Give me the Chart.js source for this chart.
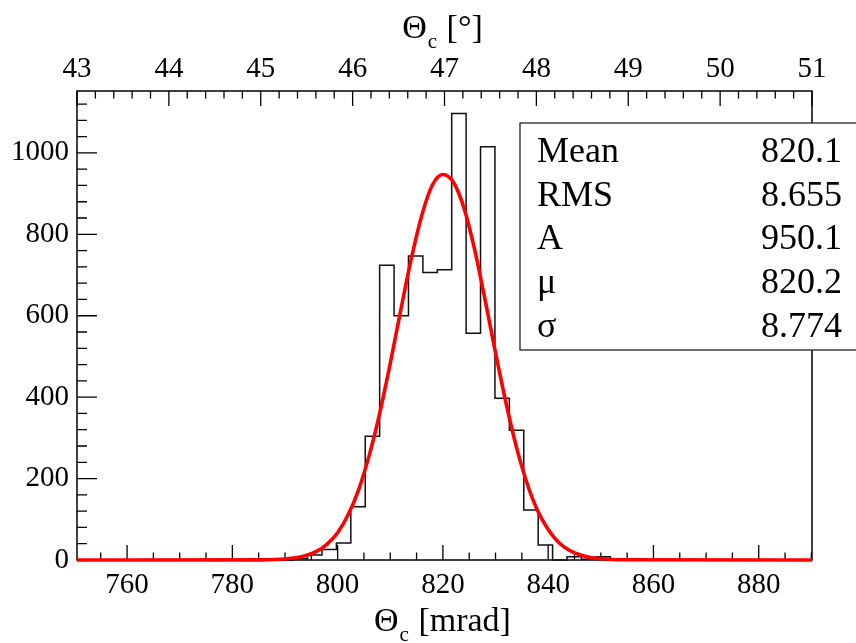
<!DOCTYPE html>
<html lang="en">
<head>
<meta charset="UTF-8">
<title>Theta_c</title>
<script src="https://cdn.jsdelivr.net/npm/chart.js"></script>
<style>
    body { margin: 0; background: #fff; }
    canvas { display: block; }
</style>
</head>
<body>
<canvas id="thetaChart" width="856" height="643"></canvas>
<script>
// histogram range = 43..51 deg, expressed in mrad
const xMin = 750.49;
const xMax = 890.12;
const nBins = 51;

// bin contents
const counts = [
    0, 0, 0, 0, 0, 0, 0, 0, 0, 0,
    0, 0, 0, 0, 0, 3, 12, 26, 42, 131,
    304, 724, 600, 747, 706, 713, 1097, 557, 1015, 397,
    319, 123, 37, 0, 8, 2, 8, 0, 0, 0,
    0, 0, 0, 0, 0, 0, 0, 0, 0, 0,
    0
];

// red gaussian fit curve
const fitX = [750.49, 786, 788, 790, 792, 794, 796, 798, 800, 802, 804, 806, 808, 810, 812, 814, 816, 818, 820,
              822, 824, 826, 828, 830, 832, 834, 836, 838, 840, 842, 844, 846, 848, 850, 852, 854, 890.12];
const fitY = [0, 0.4, 1.1, 2.5, 5.4, 11, 21, 39, 67, 111, 173, 257, 361, 483, 614, 740, 847, 921, 947,
              928, 865, 764, 640, 509, 385, 276, 188, 121, 75, 43, 24, 13, 6, 3, 1.3, 0.5, 0];

const xTicks = [760, 780, 800, 820, 840, 860, 880];
const degTicks = [43, 44, 45, 46, 47, 48, 49, 50, 51];
const yTicks = [0, 200, 400, 600, 800, 1000];
const yMax = 1152;

const statNames = ['Mean', 'RMS', 'A', 'μ', 'σ'];
const statValues = ['820.1', '8.655', '950.1', '820.2', '8.774'];

const FONT = '"Liberation Serif", "Times New Roman", serif';

// step outline: one point per bin low edge plus the closing high edge
const binW = (xMax - xMin) / nBins;
const histPoints = counts.map((c, i) => ({ x: xMin + i * binW, y: c }));
histPoints.push({ x: xMax, y: counts[nBins - 1] });

const fitPoints = fitX.map((x, i) => ({ x: x, y: fitY[i] }));

function drawTheta(ctx, cx, base, size, rest) {
    ctx.font = size + 'px ' + FONT;
    const wT = ctx.measureText('Θ').width;
    const subSize = Math.round(size * 0.62);
    ctx.font = subSize + 'px ' + FONT;
    const wc = ctx.measureText('c').width + 2;
    ctx.font = size + 'px ' + FONT;
    const wr = ctx.measureText(rest).width;
    let x = cx - (wT + wc + wr) / 2;
    ctx.textAlign = 'left';
    ctx.textBaseline = 'alphabetic';
    ctx.fillText('Θ', x, base);
    x += wT + 1;
    ctx.font = subSize + 'px ' + FONT;
    ctx.fillText('c', x, base + size * 0.3);
    x += wc - 1;
    ctx.font = size + 'px ' + FONT;
    ctx.fillText(rest, x, base);
}

const frameTicks = {
    id: 'frameTicks',
    beforeDatasetsDraw(chart) {
        const { ctx, chartArea: a, scales } = chart;
        ctx.save();
        ctx.strokeStyle = '#000';
        ctx.lineWidth = 1.5;
        ctx.strokeRect(a.left, a.top, a.right - a.left, a.bottom - a.top);
        ctx.lineWidth = 1.3;
        ctx.beginPath();
        // bottom axis: 20 mrad primaries, 5 mrad secondaries
        for (let v = 755; v <= 890; v += 5) {
            const x = scales.x.getPixelForValue(v);
            const len = v % 20 === 0 ? 15 : 7.5;
            ctx.moveTo(x, a.bottom);
            ctx.lineTo(x, a.bottom - len);
        }
        // top axis: 1 deg primaries, 0.2 deg secondaries
        for (let i = 0; i <= 40; i++) {
            const x = scales.x2.getPixelForValue(43 + i * 0.2);
            const len = i % 5 === 0 ? 15 : 7.5;
            ctx.moveTo(x, a.top);
            ctx.lineTo(x, a.top + len);
        }
        // left axis
        for (let v = 0; v <= 1140; v += 40) {
            const y = scales.y.getPixelForValue(v);
            const len = v % 200 === 0 ? 20 : 10;
            ctx.moveTo(a.left, y);
            ctx.lineTo(a.left + len, y);
        }
        ctx.stroke();
        ctx.restore();
    },
    afterDraw(chart) {
        const { ctx, chartArea: a } = chart;
        const cx = (a.left + a.right) / 2 - 2;
        ctx.save();
        ctx.fillStyle = '#000';
        drawTheta(ctx, cx, 631, 34, ' [mrad]');
        drawTheta(ctx, cx, 38, 34, ' [°]');

        // stats box
        const bx = 520, by = 123, bw = 340, bh = 227;
        ctx.fillStyle = '#fff';
        ctx.fillRect(bx, by, bw, bh);
        ctx.strokeStyle = '#222';
        ctx.lineWidth = 1.3;
        ctx.strokeRect(bx, by, bw, bh);
        ctx.fillStyle = '#000';
        ctx.font = '36px ' + FONT;
        ctx.textBaseline = 'alphabetic';
        statNames.forEach((n, i) => {
            const base = 162 + i * 43.7;
            ctx.textAlign = 'left';
            ctx.fillText(n, 537, base);
            ctx.textAlign = 'right';
            ctx.fillText(statValues[i], 842, base);
        });
        ctx.restore();
    }
};

const tickFont = { family: FONT, size: 29 };
const plain = v => String(v);

new Chart(document.getElementById('thetaChart'), {
    type: 'line',
    data: {
        datasets: [
            {
                label: 'fit',
                data: fitPoints,
                borderColor: '#ff0000',
                borderWidth: 3.6,
                pointRadius: 0,
                cubicInterpolationMode: 'monotone',
                clip: 6,
                order: 0
            },
            {
                label: 'hist',
                data: histPoints,
                borderColor: '#111',
                borderWidth: 1.5,
                pointRadius: 0,
                stepped: true,
                clip: 6,
                order: 1
            }
        ]
    },
    options: {
        responsive: false,
        animation: false,
        events: [],
        layout: { padding: { left: 0, right: 44, top: 0, bottom: 0 } },
        plugins: { legend: { display: false }, tooltip: { enabled: false } },
        scales: {
            x: {
                type: 'linear',
                position: 'bottom',
                min: xMin,
                max: xMax,
                grid: { display: false, drawTicks: false },
                border: { display: false },
                afterBuildTicks: s => { s.ticks = xTicks.map(v => ({ value: v })); },
                afterFit: s => { s.height = 83; },
                ticks: { font: tickFont, color: '#000', padding: 8, maxRotation: 0, callback: plain }
            },
            x2: {
                type: 'linear',
                position: 'top',
                min: 43,
                max: 51,
                grid: { display: false, drawTicks: false },
                border: { display: false },
                afterBuildTicks: s => { s.ticks = degTicks.map(v => ({ value: v })); },
                afterFit: s => { s.height = 91; },
                ticks: { font: tickFont, color: '#000', padding: 4, maxRotation: 0, callback: plain }
            },
            y: {
                type: 'linear',
                min: 0,
                max: yMax,
                grid: { display: false, drawTicks: false },
                border: { display: false },
                afterBuildTicks: s => { s.ticks = yTicks.map(v => ({ value: v })); },
                afterFit: s => { s.width = 77; },
                ticks: { font: tickFont, color: '#000', padding: 8, callback: plain }
            }
        }
    },
    plugins: [frameTicks]
});
</script>
</body>
</html>
